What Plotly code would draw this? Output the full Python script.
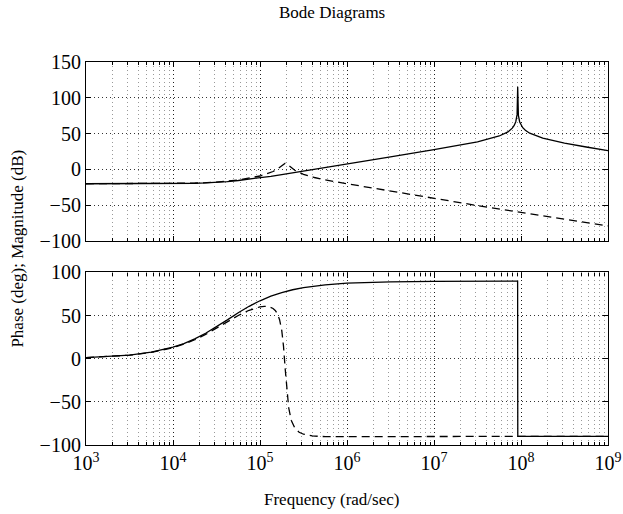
import plotly.graph_objects as go

# ---- data (frequency given as log10 exponent) ----
solid_mag_exp = [3, 3.5, 3.75, 4, 4.125, 4.25, 4.375, 4.5, 4.625, 4.75,
                 4.875, 5, 5.125, 5.25, 5.375, 5.5, 5.625, 5.75, 6, 6.5,
                 7, 7.25, 7.5, 7.75, 7.85, 7.9, 7.92, 7.94, 7.955, 7.962,
                 7.97, 7.985, 8, 8.02, 8.05, 8.1, 8.25, 8.5, 8.75, 9]
solid_mag = [-20.0, -20.0, -19.9, -19.8, -19.6, -19.3, -18.8, -18.1, -17.0, -15.5,
             -13.8, -11.8, -9.6, -7.2, -4.8, -2.4, 0.1, 2.6, 7.5, 17.5,
             27.5, 32.9, 38.6, 46.7, 52.4, 57.6, 61.1, 66.6, 76.5, 115.5,
             75.4, 66.3, 61.9, 58.2, 54.6, 50.6, 43.7, 36.8, 31.3, 26.1]

dashed_mag_exp = [3, 3.5, 4, 4.25, 4.5, 4.75, 5, 5.1, 5.15, 5.2,
                  5.225, 5.25, 5.27, 5.29, 5.31, 5.33, 5.36, 5.4, 5.45, 5.5,
                  5.625, 5.75, 6, 6.5, 7, 7.5, 8, 8.5, 9]
dashed_mag = [-20.0, -20.0, -19.7, -19.2, -17.8, -14.8, -9.2, -5.5, -2.9, 0.5,
              2.7, 5.4, 7.5, 8.5, 7.5, 5.3, 2.1, -1.2, -4.3, -6.8,
              -11.3, -14.7, -20.0, -30.5, -41.0, -50.5, -60.0, -69.5, -79.0]

solid_ph_exp = [3, 3.5, 3.75, 4, 4.125, 4.25, 4.375, 4.5, 4.625, 4.75,
                4.875, 5, 5.125, 5.25, 5.375, 5.5, 5.625, 5.75, 6, 6.5,
                7, 7.5, 7.961, 7.963, 8.5, 9]
solid_ph = [1.4, 4.3, 7.6, 13.4, 17.6, 23.0, 29.5, 37.0, 45.1, 53.3,
            60.8, 67.2, 72.5, 76.7, 80.0, 82.4, 84.3, 85.7, 87.6, 89.2,
            89.8, 89.9, 90.0, -90.0, -90.0, -90.0]

dashed_ph_exp = [3, 3.5, 3.75, 4, 4.125, 4.25, 4.375, 4.5, 4.625, 4.75,
                 4.875, 4.95, 5, 5.05, 5.1, 5.15, 5.175, 5.2, 5.225, 5.25,
                 5.27, 5.29, 5.31, 5.33, 5.36, 5.4, 5.45, 5.5, 5.6, 5.75,
                 6, 6.5, 7, 8, 9]
dashed_ph = [1.3, 4.1, 7.3, 12.9, 16.9, 22.0, 28.2, 35.3, 42.8, 50.1,
             56.2, 58.9, 60.2, 60.8, 60.4, 58.3, 56.0, 52.1, 45.3, 32.8,
             14.7, -12.1, -39.0, -57.1, -71.6, -80.3, -85.2, -87.5, -89.5, -90.3,
             -90.3, -90.1, -90.0, -90.0, -90.0]

x_tick_exps = [3, 4, 5, 6, 7, 8, 9]
mag_ticks = [-100, -50, 0, 50, 100, 150]
ph_ticks = [-100, -50, 0, 50, 100]

title_text = "Bode Diagrams"
xlabel_text = "Frequency (rad/sec)"
ylabel_text = "Phase (deg); Magnitude (dB)"


def f(exps):
    return [10 ** e for e in exps]


FONT = "Liberation Serif, Times New Roman, serif"
TICKSIZE = 20

fig = go.Figure()
fig.add_trace(go.Scatter(x=f(solid_mag_exp), y=solid_mag, mode="lines",
                         line=dict(color="black", width=1.3), xaxis="x", yaxis="y"))
fig.add_trace(go.Scatter(x=f(dashed_mag_exp), y=dashed_mag, mode="lines",
                         line=dict(color="black", width=1.3, dash="8px,5px"), xaxis="x", yaxis="y"))
fig.add_trace(go.Scatter(x=f(solid_ph_exp), y=solid_ph, mode="lines",
                         line=dict(color="black", width=1.3), xaxis="x2", yaxis="y2"))
fig.add_trace(go.Scatter(x=f(dashed_ph_exp), y=dashed_ph, mode="lines",
                         line=dict(color="black", width=1.3, dash="8px,5px"), xaxis="x2", yaxis="y2"))

tickvals = [10 ** e for e in x_tick_exps]
ticktext = ["10<sup>%d</sup>" % e for e in x_tick_exps]

common_x = dict(type="log", range=[3, 9], tickvals=tickvals, ticks="inside", ticklen=5,
                tickcolor="black", showline=True, linecolor="black", linewidth=1.2,
                mirror="ticks", showgrid=True, gridcolor="rgba(0,0,0,0.8)",
                griddash="1px,3px", gridwidth=1, zeroline=False, automargin=False,
                minor=dict(dtick="D1", ticks="inside", ticklen=3, tickcolor="black",
                           showgrid=True, gridcolor="rgba(0,0,0,0.4)",
                           griddash="1px,3px", gridwidth=1))
common_y = dict(ticks="inside", ticklen=5, tickcolor="black", showline=True,
                linecolor="black", linewidth=1.2, mirror="ticks", showgrid=True,
                gridcolor="rgba(0,0,0,0.8)", griddash="1px,3px", gridwidth=1,
                zeroline=False, automargin=False,
                tickfont=dict(family=FONT, size=TICKSIZE, color="black"))

fig.update_layout(
    width=623, height=514,
    margin=dict(l=86, r=14.5, t=62, b=69, autoexpand=False),
    paper_bgcolor="white", plot_bgcolor="white",
    showlegend=False,
    font=dict(family=FONT, size=17, color="black"),
    xaxis=dict(**common_x, anchor="y", domain=[0, 1], showticklabels=False),
    xaxis2=dict(**common_x, anchor="y2", domain=[0, 1], matches="x",
                ticktext=ticktext, tickfont=dict(family=FONT, size=TICKSIZE, color="black")),
    yaxis=dict(**common_y, domain=[0.5326, 1], range=[-100, 150], tickvals=mag_ticks,
               ticktext=["\u2212100", "\u221250", "0", "50", "100", "150"], anchor="x"),
    yaxis2=dict(**common_y, domain=[0, 0.4504], range=[-100, 100], tickvals=ph_ticks,
                ticktext=["\u2212100", "\u221250", "0", "50", "100"], anchor="x2"),
    annotations=[
        dict(text=title_text, xref="paper", yref="paper", x=0.471, y=1.1305,
             xanchor="center", yanchor="middle", showarrow=False,
             font=dict(family=FONT, size=17, color="black")),
        dict(text=xlabel_text, xref="paper", yref="paper", x=0.471, y=-0.141,
             xanchor="center", yanchor="middle", showarrow=False,
             font=dict(family=FONT, size=17, color="black")),
        dict(text=ylabel_text, xref="paper", yref="paper", x=-0.132, y=0.513,
             xanchor="center", yanchor="middle", showarrow=False, textangle=-90,
             font=dict(family=FONT, size=17, color="black")),
    ],
)

fig.write_html("out.html")
